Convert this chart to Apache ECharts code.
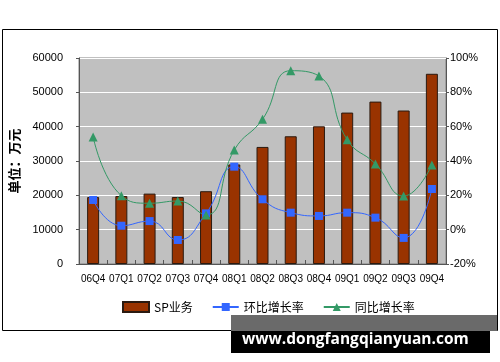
<!DOCTYPE html>
<html><head><meta charset="utf-8">
<script src="https://cdn.jsdelivr.net/npm/echarts@6/dist/echarts.min.js"></script>
<style>html,body{margin:0;padding:0;background:#fff}#c{width:500px;height:362px}</style>
</head><body><div id="c"></div>
<script>
var categories = ['06Q4','07Q1','07Q2','07Q3','07Q4','08Q1','08Q2','08Q3','08Q4','09Q1','09Q2','09Q3','09Q4'];
var spValues = [19500, 19800, 20500, 19500, 21200, 29000, 34100, 37200, 40100, 44100, 47300, 44700, 55400];
var qoqGrowth = [17.3, 2.3, 5.0, -6.0, 9.5, 36.7, 17.7, 9.9, 8.0, 9.9, 7.0, -4.8, 23.7];
var yoyGrowth = [54.0, 19.8, 15.4, 16.7, 8.6, 46.4, 64.3, 92.6, 89.5, 52.4, 38.3, 19.6, 37.7];
var leftTicks = [0, 60000, 10000];
var rightTicks = [-20, 100, 20];

var chart = echarts.init(document.getElementById('c'), null, {renderer:'canvas'});
var lblFont = {fontFamily:'Liberation Sans', fontSize:11, color:'#000'};
chart.setOption({
  animation:false,
  backgroundColor:'#fff',
  graphic:[
    {type:'rect', z:-10, shape:{x:2.5, y:29.5, width:495, height:301}, style:{fill:'#fff', stroke:'#000', lineWidth:1}},
    {type:'rect', z:100, shape:{x:231, y:315, width:266, height:16}, style:{fill:'#6a6a6a'}},
    {type:'rect', z:100, shape:{x:231, y:331, width:259, height:22}, style:{fill:'#000'}},
    {type:'text', z:101, left:242, top:332, style:{text:'www.dongfangqianyuan.com', fill:'#fff', font:'bold 15.5px "Open Sans"'}}
  ],
  grid:{left:75, right:54, top:58, bottom:98, show:true, backgroundColor:'#c0c0c0', borderColor:'#808080', borderWidth:1},
  legend:{
    left:122, top:301, padding:0, itemWidth:26, itemHeight:10, itemGap:19,
    textStyle:{fontFamily:'Noto Sans CJK SC', fontSize:12, color:'#000'},
    data:[{name:'SP业务', icon:'rect'},'环比增长率','同比增长率']
  },
  xAxis:{
    type:'category', data:categories,
    axisLine:{lineStyle:{color:'#555'}},
    axisTick:{show:true, inside:true, length:4, lineStyle:{color:'#555'}},
    axisLabel:{margin:10, interval:0, fontFamily:'Liberation Sans', fontSize:10, color:'#000'}
  },
  yAxis:[
    {type:'value', min:leftTicks[0], max:leftTicks[1], interval:leftTicks[2],
     name:'单位：万元', nameLocation:'middle', nameGap:58, nameRotate:90,
     nameTextStyle:{fontFamily:'Noto Sans CJK SC', fontWeight:'bold', fontSize:13, color:'#000'},
     axisLine:{show:true, lineStyle:{color:'#555'}},
     axisTick:{show:true, length:3, lineStyle:{color:'#555'}},
     splitLine:{show:true, lineStyle:{color:'#fff', width:1}},
     axisLabel:Object.assign({margin:16, formatter:function(v){return String(v);}}, lblFont)},
    {type:'value', min:rightTicks[0], max:rightTicks[1], interval:rightTicks[2], position:'right',
     axisLine:{show:true, lineStyle:{color:'#555'}},
     axisTick:{show:true, length:3, lineStyle:{color:'#555'}},
     splitLine:{show:false},
     axisLabel:Object.assign({margin:4, formatter:'{value}%'}, lblFont)}
  ],
  series:[
    {name:'SP业务', type:'bar', data:spValues, barWidth:12,
     itemStyle:{color:'#993300', borderColor:'#2a1a10', borderWidth:1}},
    {name:'环比增长率', type:'line', yAxisIndex:1, data:qoqGrowth, smooth:0.5,
     symbol:'rect', symbolSize:8, lineStyle:{color:'#3366ff', width:1},
     itemStyle:{color:'#3366ff'}},
    {name:'同比增长率', type:'line', yAxisIndex:1, data:yoyGrowth, smooth:0.5,
     symbol:'triangle', symbolSize:9, lineStyle:{color:'#339966', width:1},
     itemStyle:{color:'#339966'}}
  ]
});
</script></body></html>
